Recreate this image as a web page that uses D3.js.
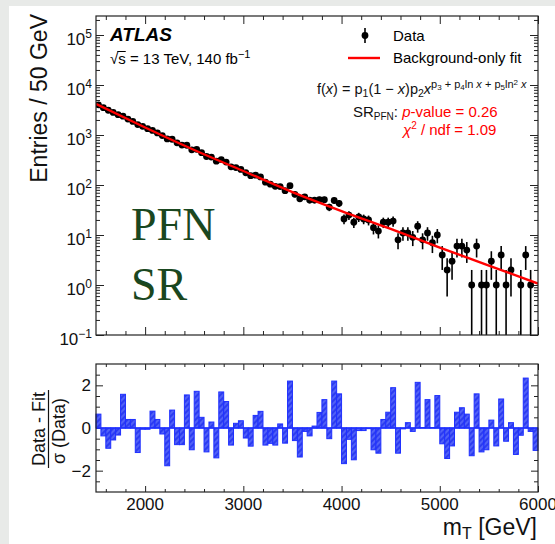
<!DOCTYPE html>
<html>
<head>
<meta charset="utf-8">
<script src="https://cdn.jsdelivr.net/npm/d3@7"></script>
<style>
  html, body { margin: 0; padding: 0; background: #e8eae8; }
  svg { display: block; }
  text { font-family: "Liberation Sans", Arial, Helvetica, sans-serif; }
</style>
</head>
<body>
<div id="chart"></div>
<script>
// mT spectrum in the PFN signal region, 50 GeV bins from 1500 to 6000 GeV
const binLow = 1500;
const binWidth = 50;

// events per bin (0 = empty bin, not drawn on the log scale)
const counts = [
  3991, 3523, 3127, 2825, 2545, 2375, 2081, 1868, 1614, 1489,
  1339, 1236, 1103, 974, 833, 823, 699, 629, 624, 505,
  516, 444, 372, 362, 299, 323, 287, 231, 223, 205,
  176, 154, 157, 145, 114, 104, 94, 93, 77, 97,
  65, 53, 58, 50, 50, 51, 51, 36, 49, 43,
  21, 25, 18, 23, 21, 20, 14, 12, 18, 18,
  19, 8, 11, 11, 9, 15, 8, 11, 7, 10,
  4, 2, 3, 6, 6, 5, 1, 6, 1, 1,
  3, 1, 4, 1, 2, 0, 1, 4, 1, 0
];

// (Data - Fit) / sigma(Data) per bin
const residuals = [
  0.65, -0.37, -0.95, -0.56, -0.33, 1.58, 0.4, 0.4, -1.15, -0.06,
  -0.06, 0.79, 0.4, -0.28, -1.77, 0.84, -0.78, -0.78, 1.55, -1.02,
  1.72, 0.5, -1.12, 0.28, -1.4, 1.69, 1.24, -0.8, 0.22, 0.34,
  -0.47, -0.85, 0.59, 0.78, -0.8, -0.72, -0.8, 0.19, -0.71, 2.2,
  -0.59, -1.36, -0.16, -0.37, 0.09, 0.73, 1.33, -0.5, 2.2, 1.6,
  -1.67, -0.53, -1.49, -0.12, -0.12, -0.03, -1.02, -1.18, 0.4, 0.74,
  1.89, -1.18, -0.04, 0.25, -0.16, 2.14, 0.02, 1.33, 0.02, 1.52,
  -0.74, -1.43, -0.84, 0.74, 0.95, 0.65, -1.3, 1.6, -1.12, -1.02,
  0.37, -0.84, 1.36, -0.62, 0.25, -1.24, -0.34, 2.34, -0.16, -1.05
];

// background-only fit, read at a few masses
const fitMass = [1500, 2000, 2500, 3000, 3500, 4000, 4500, 5000, 5500, 6000];
const fitValues = [4169, 1413, 501, 190.5, 72.4, 30.2, 13.2, 5.62, 2.45, 1.07];

const xMajor = [2000, 3000, 4000, 5000, 6000];
const logExponents = [-1, 0, 1, 2, 3, 4, 5];
const resMajor = [-2, 0, 2];

const W = 555, H = 544;
const L = 96, R = 538;
const topT = 16, topB = 335;
const resT = 364, resB = 492;

const x = d3.scaleLinear().domain([1500, 6000]).range([L, R]);
const y = d3.scaleLog().domain([0.1, 2.4e5]).range([topB, topT]);
const yr = d3.scaleLinear().domain([-3, 3]).range([resB, resT]);

const bins = counts.map((c, i) => ({
  lo: binLow + i * binWidth,
  hi: binLow + (i + 1) * binWidth,
  n: c,
  r: residuals[i]
}));

const svg = d3.select("#chart").append("svg")
  .attr("width", W)
  .attr("height", H);

svg.append("rect").attr("width", W).attr("height", H).attr("fill", "#e8eae8");
svg.append("rect").attr("x", 9).attr("y", 6).attr("width", W - 9).attr("height", H - 6).attr("fill", "#fff");

const defs = svg.append("defs");
const pat = defs.append("pattern")
  .attr("id", "hatch")
  .attr("patternUnits", "userSpaceOnUse")
  .attr("width", 4).attr("height", 4)
  .attr("patternTransform", "rotate(45)");
pat.append("rect").attr("width", 4).attr("height", 4).attr("fill", "#2c3cf0");
pat.append("line").attr("x1", 1).attr("y1", 0).attr("x2", 1).attr("y2", 4)
  .attr("stroke", "#7f8eff").attr("stroke-width", 0.9);

defs.append("clipPath").attr("id", "clipTop")
  .append("rect").attr("x", L).attr("y", topT).attr("width", R - L).attr("height", topB - topT);

// tick helper: inside ticks, no domain path
function ticks(axis, tx, ty, values, size) {
  return svg.append("g")
    .attr("transform", `translate(${tx},${ty})`)
    .call(axis.tickValues(values).tickSize(size).tickSizeOuter(0).tickFormat(""))
    .call(g => g.select(".domain").remove())
    .call(g => g.selectAll("line").attr("stroke", "#222").attr("stroke-width", 1));
}

const xMinor = d3.range(1600, 6000, 200).filter(v => v % 1000 !== 0);
const logMinor = [];
logExponents.forEach(k => {
  for (let m = 2; m <= 9; m++) {
    const v = m * Math.pow(10, k);
    if (v < 2.4e5) logMinor.push(v);
  }
});
const logMajor = logExponents.map(k => Math.pow(10, k));
const resMinor = d3.range(-2.5, 3, 0.5).filter(v => !resMajor.includes(v));

// ---- upper panel ticks
ticks(d3.axisBottom(x), 0, topB, xMajor, -8);
ticks(d3.axisBottom(x), 0, topB, xMinor, -4);
ticks(d3.axisTop(x), 0, topT, xMajor, -8);
ticks(d3.axisTop(x), 0, topT, xMinor, -4);
ticks(d3.axisLeft(y), L, 0, logMajor, -8);
ticks(d3.axisLeft(y), L, 0, logMinor, -4);
ticks(d3.axisRight(y), R, 0, logMajor, -8);
ticks(d3.axisRight(y), R, 0, logMinor, -4);

// ---- lower panel ticks
ticks(d3.axisBottom(x), 0, resB, xMajor, -6);
ticks(d3.axisBottom(x), 0, resB, xMinor, -3);
ticks(d3.axisTop(x), 0, resT, xMajor, -6);
ticks(d3.axisTop(x), 0, resT, xMinor, -3);
ticks(d3.axisLeft(yr), L, 0, resMajor, -7);
ticks(d3.axisLeft(yr), L, 0, resMinor, -4);
ticks(d3.axisRight(yr), R, 0, resMajor, -7);
ticks(d3.axisRight(yr), R, 0, resMinor, -4);

// ---- y labels, upper (10^k)
const yLab = svg.append("g").attr("font-size", 17).attr("fill", "#111");
logExponents.forEach(k => {
  const t = yLab.append("text")
    .attr("x", 92)
    .attr("y", y(Math.pow(10, k)) + 10)
    .attr("text-anchor", "end");
  t.append("tspan").text("10");
  t.append("tspan").attr("dy", -7).attr("font-size", 12).text(k < 0 ? "\u2212" + (-k) : k);
});

// ---- y labels, lower
svg.append("g").attr("font-size", 17).attr("fill", "#111")
  .selectAll("text").data(resMajor).join("text")
  .attr("x", 91)
  .attr("y", d => yr(d) + 6)
  .attr("text-anchor", "end")
  .text(d => d < 0 ? "\u2212" + (-d) : d);

// ---- x labels (the last one runs off the page edge, as in the original)
svg.append("g").attr("font-size", 17).attr("fill", "#111")
  .selectAll("text").data(xMajor).join("text")
  .attr("x", d => x(d))
  .attr("y", 510)
  .attr("text-anchor", "middle")
  .text(d => d);

// ---- data points
const gTop = svg.append("g").attr("clip-path", "url(#clipTop)");
const filled = bins.filter(d => d.n > 0);

gTop.append("g").selectAll("line").data(filled).join("line")
  .attr("x1", d => x((d.lo + d.hi) / 2))
  .attr("x2", d => x((d.lo + d.hi) / 2))
  .attr("y1", d => y(Math.max(d.n - Math.sqrt(d.n), 0.05)))
  .attr("y2", d => y(d.n + Math.sqrt(d.n)))
  .attr("stroke", "#000")
  .attr("stroke-width", 1.6);

gTop.append("g").selectAll("circle").data(filled).join("circle")
  .attr("cx", d => x((d.lo + d.hi) / 2))
  .attr("cy", d => y(d.n))
  .attr("r", 3.4)
  .attr("fill", "#000");

// ---- fit
const fitLine = d3.line()
  .x((d, i) => x(fitMass[i]))
  .y(d => y(d))
  .curve(d3.curveMonotoneX);

gTop.append("path")
  .attr("d", fitLine(fitValues))
  .attr("fill", "none")
  .attr("stroke", "#f00")
  .attr("stroke-width", 2.4);

// ---- residual bars
svg.append("g").selectAll("rect").data(bins).join("rect")
  .attr("x", d => x(d.lo))
  .attr("width", d => x(d.hi) - x(d.lo))
  .attr("y", d => yr(Math.max(d.r, 0)))
  .attr("height", d => Math.abs(yr(d.r) - yr(0)))
  .attr("fill", "url(#hatch)")
  .attr("stroke", "#1f30ff")
  .attr("stroke-width", 1);

svg.append("line")
  .attr("x1", L).attr("x2", R)
  .attr("y1", yr(0)).attr("y2", yr(0))
  .attr("stroke", "#1f30ff")
  .attr("stroke-width", 1.6);

// ---- frames
[[topT, topB], [resT, resB]].forEach(([t, b]) => {
  svg.append("rect")
    .attr("x", L).attr("y", t)
    .attr("width", R - L).attr("height", b - t)
    .attr("fill", "none")
    .attr("stroke", "#222")
    .attr("stroke-width", 1.2);
});

// ---- axis titles
svg.append("text")
  .attr("transform", "translate(47,14) rotate(-90)")
  .attr("text-anchor", "end")
  .attr("font-size", 23)
  .attr("fill", "#111")
  .text("Entries / 50 GeV");

const mt = svg.append("text")
  .attr("x", 537).attr("y", 535)
  .attr("text-anchor", "end")
  .attr("font-size", 23)
  .attr("fill", "#111");
mt.append("tspan").text("m");
mt.append("tspan").attr("font-size", 16).attr("dy", 4).text("T");
mt.append("tspan").attr("dy", -4).text(" [GeV]");

const frac = svg.append("g").attr("transform", "translate(0,429)").attr("font-size", 18).attr("fill", "#111");
frac.append("text").attr("transform", "translate(45,0) rotate(-90)")
  .attr("text-anchor", "middle").text("Data - Fit");
frac.append("line").attr("x1", 48.5).attr("x2", 48.5).attr("y1", -39).attr("y2", 39)
  .attr("stroke", "#111").attr("stroke-width", 1.2);
frac.append("text").attr("transform", "translate(65,2) rotate(-90)")
  .attr("text-anchor", "middle").text("\u03c3 (Data)");

// ---- ATLAS label
svg.append("text")
  .attr("x", 110).attr("y", 41)
  .attr("font-size", 19)
  .attr("font-weight", "bold")
  .attr("font-style", "italic")
  .attr("fill", "#000")
  .text("ATLAS");

const lumi = svg.append("text")
  .attr("x", 110).attr("y", 64)
  .attr("font-size", 15)
  .attr("fill", "#000");
lumi.append("tspan").text("\u221as = 13 TeV, 140 fb");
lumi.append("tspan").attr("dy", -6).attr("font-size", 11).text("\u22121");

// overline over the s of sqrt(s)
{
  const node = lumi.node();
  const e0 = node.getExtentOfChar(0);
  const e1 = node.getExtentOfChar(1);
  svg.append("line")
    .attr("x1", e0.x + e0.width - 1).attr("x2", e1.x + e1.width)
    .attr("y1", e0.y + 1.5).attr("y2", e0.y + 1.5)
    .attr("stroke", "#000").attr("stroke-width", 1);
}

// ---- legend
svg.append("line").attr("x1", 365).attr("x2", 365).attr("y1", 28).attr("y2", 43)
  .attr("stroke", "#000").attr("stroke-width", 1.6);
svg.append("circle").attr("cx", 365).attr("cy", 35.5).attr("r", 3.4).attr("fill", "#000");
svg.append("text").attr("x", 393).attr("y", 41).attr("font-size", 15).text("Data");

svg.append("line").attr("x1", 348).attr("x2", 380).attr("y1", 58).attr("y2", 58)
  .attr("stroke", "#f00").attr("stroke-width", 2.4);
svg.append("text").attr("x", 393).attr("y", 63).attr("font-size", 15).text("Background-only fit");

// ---- fit function
const fx = svg.append("text").attr("x", 317).attr("y", 94).attr("font-size", 14.5).attr("fill", "#111");
fx.append("tspan").text("f(");
fx.append("tspan").attr("font-style", "italic").text("x");
fx.append("tspan").text(") = p");
fx.append("tspan").attr("font-size", 10.5).attr("dy", 3).text("1");
fx.append("tspan").attr("dy", -3).text("(1 \u2212 ");
fx.append("tspan").attr("font-style", "italic").text("x");
fx.append("tspan").text(")p");
fx.append("tspan").attr("font-size", 10.5).attr("dy", 3).text("2");
fx.append("tspan").attr("dy", -3).attr("font-style", "italic").text("x");
const sup = [
  ["p", 0], ["3", 2], [" + p", -2], ["4", 2], ["ln ", -2], ["x", 0, true],
  [" + p", 0], ["5", 2], ["ln", -2], ["2", -3], [" ", 3], ["x", 0, true]
];
let first = true;
sup.forEach(([s, dy, it]) => {
  const small = (s === "3" || s === "4" || s === "5" || s === "2");
  const t = fx.append("tspan")
    .attr("font-size", small ? 8 : 11)
    .attr("dy", (first ? -6 : 0) + dy)
    .text(s);
  if (it) t.attr("font-style", "italic");
  first = false;
});

// ---- SR PFN p-value
const sr = svg.append("text").attr("x", 353).attr("y", 117).attr("font-size", 15).attr("fill", "#111");
sr.append("tspan").text("SR");
sr.append("tspan").attr("font-size", 10).attr("dy", 3).text("PFN");
sr.append("tspan").attr("dy", -3).text(": ");
sr.append("tspan").attr("fill", "#f00").attr("font-style", "italic").text("p");
sr.append("tspan").attr("fill", "#f00").text("-value = 0.26");

const chi = svg.append("text").attr("x", 403).attr("y", 135).attr("font-size", 15).attr("fill", "#f00");
chi.append("tspan").attr("font-style", "italic").text("\u03c7");
chi.append("tspan").attr("font-size", 10).attr("dy", -6).text("2");
chi.append("tspan").attr("dy", 6).text(" / ndf = 1.09");

// ---- region tag
const tag = svg.append("g")
  .attr("font-size", 46)
  .attr("fill", "#1a4720");
tag.append("text").attr("x", 131).attr("y", 240).style("font-family", "'Liberation Serif', serif").text("PFN");
tag.append("text").attr("x", 131).attr("y", 300).style("font-family", "'Liberation Serif', serif").text("SR");
</script>
</body>
</html>
